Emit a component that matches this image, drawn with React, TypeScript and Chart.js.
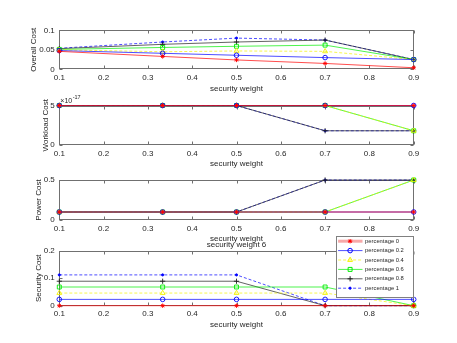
import React, { useEffect, useRef } from "react";
import { Chart, registerables } from "chart.js";
import { drawPoint } from "chart.js/helpers";

Chart.register(...registerables);

// ---------------- data ----------------
const securityWeights = [0.1, 0.3333, 0.5, 0.7, 0.9];
const xTickValues = [0.1, 0.2, 0.3, 0.4, 0.5, 0.6, 0.7, 0.8, 0.9];
const seriesNames = [
  "percentage 0",
  "percentage 0.2",
  "percentage 0.4",
  "percentage 0.6",
  "percentage 0.8",
  "percentage 1",
];

const overallCost = [
  [0.046, 0.033, 0.024, 0.015, 0.004],
  [0.048, 0.041, 0.036, 0.03, 0.025],
  [0.05, 0.045, 0.047, 0.046, 0.025],
  [0.051, 0.056, 0.059, 0.062, 0.025],
  [0.053, 0.064, 0.07, 0.075, 0.025],
  [0.054, 0.07, 0.08, 0.075, 0.025],
];
const workloadCost = [
  [5e-17, 5e-17, 5e-17, 5e-17, 5e-17],
  [5e-17, 5e-17, 5e-17, 5e-17, 5e-17],
  [5e-17, 5e-17, 5e-17, 5e-17, 1.8e-17],
  [5e-17, 5e-17, 5e-17, 5e-17, 1.8e-17],
  [5e-17, 5e-17, 5e-17, 1.8e-17, 1.8e-17],
  [5e-17, 5e-17, 5e-17, 1.8e-17, 1.8e-17],
];
const powerCost = [
  [0.1, 0.1, 0.1, 0.1, 0.1],
  [0.1, 0.1, 0.1, 0.1, 0.1],
  [0.1, 0.1, 0.1, 0.1, 0.5],
  [0.1, 0.1, 0.1, 0.1, 0.5],
  [0.1, 0.1, 0.1, 0.5, 0.5],
  [0.1, 0.1, 0.1, 0.5, 0.5],
];
const securityCost = [
  [0, 0, 0, 0, 0],
  [0.023, 0.023, 0.023, 0.023, 0.023],
  [0.046, 0.046, 0.046, 0.046, 0],
  [0.068, 0.068, 0.068, 0.068, 0],
  [0.089, 0.089, 0.089, 0, 0],
  [0.112, 0.112, 0.112, 0, 0],
];

const overallTicks = [0, 0.05, 0.1];
const workloadTicks = [0, 5e-17];
const powerTicks = [0, 0.5];
const securityTicks = [0, 0.1, 0.2];
const workloadExponent = -17;

// ---------------- styles / layout ----------------
const W = 457;
const H = 343;
const PLOT_LEFT = 59.3;
const PLOT_RIGHT = 413.7;
const X_AXIS_HEIGHT = 24;
const FONT = "'Liberation Sans', Arial, Helvetica, sans-serif";
const TEXT = "#262626";
const AXIS = "#707070";
const LINE_W = 0.7;

const seriesStyles = [
  { color: "#ff0000", dash: [] as number[], pointStyle: "star", radius: 2.2, filled: false },
  { color: "#0000ff", dash: [] as number[], pointStyle: "circle", radius: 2.3, filled: false },
  { color: "#f2f200", dash: [3, 2], pointStyle: "triangle", radius: 2.8, filled: false },
  { color: "#00ee00", dash: [] as number[], pointStyle: "rect", radius: 2.8, filled: false },
  { color: "#202020", dash: [] as number[], pointStyle: "cross", radius: 2.6, filled: false },
  { color: "#0000ff", dash: [3, 2], pointStyle: "circle", radius: 1.1, filled: true },
];

const fmt = (v: number) => String(+Number(v).toFixed(4));

const axesBoxPlugin = {
  id: "axesBox",
  beforeDatasetsDraw(chart: any) {
    const { ctx, chartArea: a, scales } = chart;
    const L = Math.round(a.left) + 0.5;
    const R = Math.round(a.right) - 0.5;
    const T = Math.round(a.top) + 0.5;
    const B = Math.round(a.bottom) - 0.5;
    ctx.save();
    ctx.strokeStyle = AXIS;
    ctx.lineWidth = 1;
    ctx.strokeRect(L, T, R - L, B - T);
    ctx.beginPath();
    scales.x.ticks.forEach((t: any) => {
      const px = Math.round(scales.x.getPixelForValue(t.value)) + 0.5;
      ctx.moveTo(px, B);
      ctx.lineTo(px, B - 3);
      ctx.moveTo(px, T);
      ctx.lineTo(px, T + 3);
    });
    scales.y.ticks.forEach((t: any) => {
      const py = Math.round(scales.y.getPixelForValue(t.value)) + 0.5;
      ctx.moveTo(L, py);
      ctx.lineTo(L + 3, py);
      ctx.moveTo(R, py);
      ctx.lineTo(R - 3, py);
    });
    ctx.stroke();
    ctx.restore();
  },
};

const exponentPlugin = {
  id: "exponentLabel",
  afterDraw(chart: any) {
    const { ctx, chartArea: a } = chart;
    ctx.save();
    ctx.fillStyle = TEXT;
    ctx.textBaseline = "alphabetic";
    ctx.textAlign = "left";
    ctx.font = `7px ${FONT}`;
    const base = "\u00d710";
    ctx.fillText(base, a.left + 1, a.top - 3);
    const w = ctx.measureText(base).width;
    ctx.font = `5.5px ${FONT}`;
    ctx.fillText(String(workloadExponent), a.left + 1 + w + 0.5, a.top - 6.5);
    ctx.restore();
  },
};

const titlePlugin = {
  id: "panelTitle",
  afterDraw(chart: any) {
    const { ctx, chartArea: a } = chart;
    ctx.save();
    ctx.fillStyle = TEXT;
    ctx.font = `8px ${FONT}`;
    ctx.textAlign = "center";
    ctx.textBaseline = "middle";
    ctx.fillText("security weight 6", (a.left + a.right) / 2, a.top - 5.5);
    ctx.restore();
  },
};

const legendPlugin = {
  id: "matlabLegend",
  afterDraw(chart: any) {
    const { ctx, chartArea: a } = chart;
    const bw = 78;
    const bh = 61;
    const left = Math.round(a.right - bw) + 0.5;
    const top = Math.round(a.top - 14.7) + 0.5;
    ctx.save();
    ctx.fillStyle = "#ffffff";
    ctx.fillRect(left, top, bw, bh);
    ctx.strokeStyle = "#808080";
    ctx.lineWidth = 1;
    ctx.strokeRect(left, top, bw - 1, bh);
    seriesNames.forEach((name, i) => {
      const s = seriesStyles[i];
      const y = top + 4.7 + i * 9.4;
      ctx.save();
      if (i === 0) {
        ctx.strokeStyle = "#f7a9a9";
        ctx.lineWidth = 3;
      } else {
        ctx.strokeStyle = s.color;
        ctx.lineWidth = LINE_W;
      }
      ctx.setLineDash(s.dash);
      ctx.beginPath();
      ctx.moveTo(left + 1.6, y);
      ctx.lineTo(left + 26, y);
      ctx.stroke();
      ctx.setLineDash([]);
      ctx.strokeStyle = s.color;
      ctx.fillStyle = s.filled ? s.color : "rgba(0,0,0,0)";
      ctx.lineWidth = 1;
      drawPoint(ctx, { pointStyle: s.pointStyle as any, radius: s.radius, rotation: 0, borderWidth: 1 } as any, left + 13.6, y);
      ctx.restore();
      ctx.fillStyle = TEXT;
      ctx.font = `5.8px ${FONT}`;
      ctx.textAlign = "left";
      ctx.textBaseline = "middle";
      ctx.fillText(name, left + 28.6, y);
    });
    ctx.restore();
  },
};

const panels = [
  { key: "overall", yTitle: "Overall Cost", values: overallCost, ticks: overallTicks, top: 30.3, bottom: 69.3, yTitleX: 33.5, format: (v: number) => fmt(v), extra: [] as any[] },
  { key: "workload", yTitle: "Workload Cost", values: workloadCost, ticks: workloadTicks, top: 105.5, bottom: 145, yTitleX: 45.6, format: (v: number) => fmt(v / Math.pow(10, workloadExponent)), extra: [exponentPlugin] },
  { key: "power", yTitle: "Power Cost", values: powerCost, ticks: powerTicks, top: 180, bottom: 220, yTitleX: 39, format: (v: number) => fmt(v), extra: [] as any[] },
  { key: "security", yTitle: "Security Cost", values: securityCost, ticks: securityTicks, top: 250.7, bottom: 305.7, yTitleX: 39, format: (v: number) => fmt(v), extra: [titlePlugin, legendPlugin] },
];

function buildConfig(p: any): any {
  const font = { family: FONT, size: 8 };
  return {
    type: "line",
    data: {
      datasets: seriesNames.map((name, i) => {
        const s = seriesStyles[i];
        return {
          label: name,
          data: securityWeights.map((x, j) => ({ x, y: p.values[i][j] })),
          borderColor: s.color,
          borderWidth: LINE_W,
          borderDash: s.dash,
          pointStyle: s.pointStyle,
          pointRadius: s.radius,
          pointBorderColor: s.color,
          pointBorderWidth: 0.9,
          pointBackgroundColor: s.filled ? s.color : "rgba(0,0,0,0)",
          fill: false,
          tension: 0,
          clip: false,
        };
      }),
    },
    options: {
      animation: false,
      responsive: false,
      maintainAspectRatio: false,
      events: [],
      layout: {
        padding: { left: 0, right: W - PLOT_RIGHT, top: p.top, bottom: H - p.bottom - X_AXIS_HEIGHT },
      },
      plugins: { legend: { display: false }, tooltip: { enabled: false }, title: { display: false } },
      scales: {
        x: {
          type: "linear",
          position: "bottom",
          min: 0.1,
          max: 0.9,
          afterBuildTicks: (s: any) => {
            s.ticks = xTickValues.map((value) => ({ value }));
          },
          afterFit: (s: any) => {
            s.height = X_AXIS_HEIGHT;
          },
          grid: { display: false, drawTicks: false },
          border: { display: false },
          ticks: { color: TEXT, font, padding: 3.5, maxRotation: 0, autoSkip: false, callback: (v: any) => Number(v).toFixed(1) },
          title: { display: true, text: "security weight", color: TEXT, font, padding: 0 },
        },
        y: {
          type: "linear",
          position: "left",
          min: p.ticks[0],
          max: p.ticks[p.ticks.length - 1],
          afterBuildTicks: (s: any) => {
            s.ticks = p.ticks.map((value: number) => ({ value }));
          },
          afterFit: (s: any) => {
            s.width = PLOT_LEFT;
          },
          grid: { display: false, drawTicks: false },
          border: { display: false },
          ticks: { color: TEXT, font, padding: 4.5, autoSkip: false, callback: (v: any) => p.format(Number(v)) },
          title: { display: true, text: p.yTitle, color: TEXT, font, padding: { top: p.yTitleX - 4.8, bottom: 0 } },
        },
      },
    },
    plugins: [axesBoxPlugin, ...p.extra],
  };
}

export default function App() {
  const canvases = useRef<(HTMLCanvasElement | null)[]>([]);
  useEffect(() => {
    const charts = panels.map((p, i) => new Chart(canvases.current[i] as HTMLCanvasElement, buildConfig(p)));
    return () => charts.forEach((c) => c.destroy());
  }, []);
  return (
    <div style={{ position: "absolute", left: 0, top: 0, width: W, height: H, background: "#ffffff", overflow: "hidden" }}>
      {panels.map((p, i) => (
        <canvas
          key={p.key}
          ref={(el) => {
            canvases.current[i] = el;
          }}
          width={W}
          height={H}
          style={{ position: "absolute", left: 0, top: 0, width: W, height: H }}
        />
      ))}
    </div>
  );
}
